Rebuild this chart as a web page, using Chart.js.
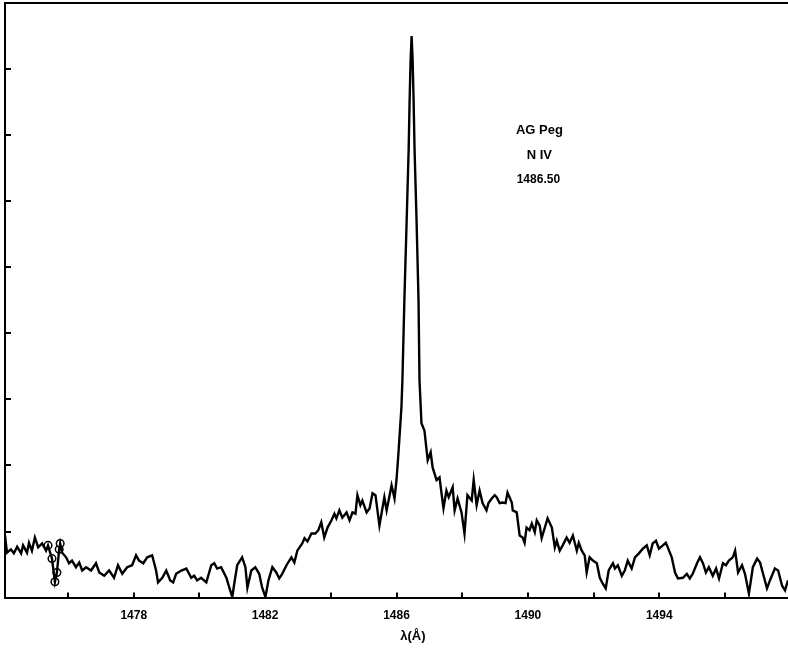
<!DOCTYPE html>
<html>
<head>
<meta charset="utf-8">
<title>AG Peg N IV 1486.50</title>
<script src="https://cdn.jsdelivr.net/npm/chart.js@4.4.1/dist/chart.umd.min.js"></script>
<style>
  html, body { margin: 0; padding: 0; background: #fff; }
  #wrap { width: 788px; height: 652px; }
</style>
</head>
<body>
<div id="wrap"><canvas id="spec" width="788" height="652"></canvas></div>
<script>
// spectrum: wavelength (Angstrom) and relative flux
var wavelength = [
  1474.08, 1474.14, 1474.26, 1474.35, 1474.45, 1474.57, 1474.63, 1474.75, 1474.81, 1474.90,
  1474.99, 1475.09, 1475.21, 1475.33, 1475.39, 1475.51, 1475.60, 1475.66, 1475.73, 1475.76,
  1475.82, 1475.94, 1476.03, 1476.12, 1476.24, 1476.34, 1476.43, 1476.55, 1476.70, 1476.85,
  1476.95, 1477.10, 1477.25, 1477.40, 1477.52, 1477.65, 1477.80, 1477.95, 1478.07, 1478.16,
  1478.29, 1478.41, 1478.56, 1478.68, 1478.74, 1478.87, 1478.99, 1479.11, 1479.20, 1479.29,
  1479.45, 1479.60, 1479.75, 1479.84, 1479.93, 1480.05, 1480.21, 1480.36, 1480.45, 1480.54,
  1480.66, 1480.82, 1480.91, 1481.00, 1481.06, 1481.15, 1481.30, 1481.40, 1481.46, 1481.58,
  1481.70, 1481.82, 1481.91, 1482.01, 1482.10, 1482.22, 1482.34, 1482.43, 1482.52, 1482.65,
  1482.80, 1482.89, 1482.98, 1483.13, 1483.20, 1483.29, 1483.41, 1483.53, 1483.62, 1483.71,
  1483.80, 1483.90, 1484.02, 1484.11, 1484.17, 1484.26, 1484.35, 1484.48, 1484.57, 1484.66,
  1484.75, 1484.81, 1484.90, 1484.96, 1485.09, 1485.18, 1485.27, 1485.36, 1485.48, 1485.63,
  1485.70, 1485.85, 1485.94, 1486.00, 1486.06, 1486.15, 1486.18, 1486.24, 1486.31, 1486.37,
  1486.40, 1486.43, 1486.46, 1486.49, 1486.52, 1486.55, 1486.61, 1486.67, 1486.70, 1486.76,
  1486.85, 1486.95, 1487.04, 1487.10, 1487.22, 1487.31, 1487.37, 1487.43, 1487.52, 1487.59,
  1487.71, 1487.77, 1487.86, 1487.98, 1488.07, 1488.16, 1488.29, 1488.35, 1488.44, 1488.53,
  1488.62, 1488.74, 1488.80, 1488.90, 1488.99, 1489.05, 1489.14, 1489.23, 1489.32, 1489.38,
  1489.51, 1489.54, 1489.66, 1489.75, 1489.84, 1489.90, 1489.96, 1490.05, 1490.12, 1490.21,
  1490.27, 1490.36, 1490.42, 1490.51, 1490.60, 1490.73, 1490.82, 1490.88, 1490.97, 1491.06,
  1491.18, 1491.27, 1491.37, 1491.49, 1491.55, 1491.64, 1491.73, 1491.79, 1491.88, 1491.98,
  1492.10, 1492.19, 1492.28, 1492.37, 1492.46, 1492.59, 1492.65, 1492.74, 1492.86, 1492.95,
  1493.04, 1493.16, 1493.26, 1493.38, 1493.50, 1493.62, 1493.71, 1493.80, 1493.90, 1493.99,
  1494.11, 1494.20, 1494.26, 1494.38, 1494.48, 1494.57, 1494.72, 1494.84, 1494.93, 1495.02,
  1495.15, 1495.24, 1495.33, 1495.42, 1495.51, 1495.63, 1495.73, 1495.82, 1495.94, 1496.03,
  1496.12, 1496.24, 1496.31, 1496.40, 1496.52, 1496.61, 1496.73, 1496.85, 1496.98, 1497.07,
  1497.16, 1497.28, 1497.37, 1497.52, 1497.62, 1497.74, 1497.83, 1497.92
];
var flux = [
  0.94, 0.68, 0.73, 0.67, 0.77, 0.67, 0.79, 0.68, 0.83, 0.71,
  0.91, 0.76, 0.82, 0.71, 0.79, 0.59, 0.24, 0.38, 0.73, 0.82,
  0.68, 0.61, 0.52, 0.56, 0.46, 0.53, 0.41, 0.46, 0.41, 0.52,
  0.38, 0.33, 0.41, 0.30, 0.49, 0.36, 0.46, 0.49, 0.64, 0.56,
  0.52, 0.61, 0.64, 0.41, 0.23, 0.30, 0.41, 0.26, 0.23, 0.36,
  0.41, 0.44, 0.30, 0.33, 0.26, 0.30, 0.23, 0.49, 0.52, 0.44,
  0.46, 0.30, 0.15, 0.01, 0.21, 0.49, 0.61, 0.46, 0.15, 0.41,
  0.46, 0.36, 0.15, 0.01, 0.26, 0.46, 0.38, 0.29, 0.36, 0.49,
  0.61, 0.53, 0.71, 0.82, 0.90, 0.85, 0.97, 0.97, 1.02, 1.14,
  0.91, 1.06, 1.17, 1.27, 1.20, 1.32, 1.21, 1.29, 1.17, 1.29,
  1.27, 1.55, 1.40, 1.47, 1.29, 1.35, 1.58, 1.55, 1.09, 1.52,
  1.32, 1.70, 1.50, 1.78, 2.19, 2.88, 3.29, 4.51, 5.72, 6.78,
  7.54, 8.15, 8.50, 8.15, 7.54, 6.78, 5.72, 4.51, 3.29, 2.64,
  2.53, 2.08, 2.20, 1.97, 1.78, 1.82, 1.58, 1.35, 1.62, 1.52,
  1.67, 1.32, 1.50, 1.29, 0.97, 1.55, 1.47, 1.78, 1.40, 1.62,
  1.43, 1.32, 1.43, 1.50, 1.55, 1.52, 1.43, 1.44, 1.43, 1.59,
  1.44, 1.32, 1.29, 0.94, 0.91, 0.83, 1.06, 1.02, 1.12, 0.99,
  1.17, 1.09, 0.90, 1.05, 1.20, 1.06, 0.76, 0.86, 0.71, 0.79,
  0.91, 0.83, 0.94, 0.71, 0.83, 0.71, 0.64, 0.38, 0.61, 0.56,
  0.52, 0.30, 0.21, 0.14, 0.41, 0.52, 0.44, 0.49, 0.33, 0.41,
  0.56, 0.44, 0.61, 0.67, 0.74, 0.79, 0.64, 0.82, 0.86, 0.74,
  0.79, 0.83, 0.76, 0.61, 0.38, 0.29, 0.30, 0.36, 0.29, 0.36,
  0.52, 0.61, 0.52, 0.38, 0.46, 0.33, 0.44, 0.29, 0.52, 0.49,
  0.56, 0.61, 0.71, 0.38, 0.49, 0.36, 0.06, 0.46, 0.59, 0.53,
  0.36, 0.14, 0.26, 0.44, 0.41, 0.18, 0.11, 0.26
];
// points marked with open circles
var flaggedWave = [1475.39, 1475.51, 1475.60, 1475.66, 1475.73, 1475.76];
var flaggedFlux = [0.79, 0.59, 0.24, 0.38, 0.73, 0.82];

var xTicks = [1476, 1478, 1480, 1482, 1484, 1486, 1488, 1490, 1492, 1494, 1496];
var xLabels = [1478, 1482, 1486, 1490, 1494];
var yTicks = [1, 2, 3, 4, 5, 6, 7, 8];
var noteLines = ['AG Peg', 'N IV', '1486.50'];

function toPoints(xs, ys) {
  var pts = [];
  for (var i = 0; i < xs.length; i++) {
    pts.push({ x: xs[i], y: ys[i] });
  }
  return pts;
}

// inward tick marks, top frame line, annotation and axis title
var frame = {
  id: 'frame',
  afterDraw: function (chart) {
    var ctx = chart.ctx;
    var a = chart.chartArea;
    var xs = chart.scales.x;
    var ys = chart.scales.y;
    ctx.save();
    ctx.strokeStyle = '#000';
    ctx.lineWidth = 2;
    ctx.beginPath();
    ctx.moveTo(a.left, a.top);
    ctx.lineTo(a.right, a.top);
    xTicks.forEach(function (v) {
      var px = Math.round(xs.getPixelForValue(v));
      ctx.moveTo(px, a.bottom);
      ctx.lineTo(px, a.bottom - 5);
    });
    yTicks.forEach(function (v) {
      var py = Math.round(ys.getPixelForValue(v));
      ctx.moveTo(a.left, py);
      ctx.lineTo(a.left + 6, py);
    });
    ctx.stroke();

    ctx.fillStyle = '#000';
    ctx.textAlign = 'center';
    ctx.textBaseline = 'middle';
    var nx = xs.getPixelForValue(1490.35);
    ctx.font = 'bold 13px "Liberation Sans", Arial, sans-serif';
    ctx.fillText(noteLines[0], nx, ys.getPixelForValue(7.07));
    ctx.fillText(noteLines[1], nx, ys.getPixelForValue(6.69));
    ctx.font = 'bold 12px "Liberation Sans", Arial, sans-serif';
    ctx.fillText(noteLines[2], nx - 1, ys.getPixelForValue(6.33));

    ctx.font = 'bold 13px "Liberation Sans", Arial, sans-serif';
    ctx.fillText('λ(Å)', xs.getPixelForValue(1486.5), a.bottom + 39);
    ctx.restore();
  }
};

new Chart(document.getElementById('spec'), {
  type: 'line',
  data: {
    datasets: [
      {
        label: 'N IV',
        data: toPoints(wavelength, flux),
        borderColor: '#000',
        borderWidth: 2.4,
        pointRadius: 0,
        tension: 0,
        fill: false
      },
      {
        label: 'flagged',
        data: toPoints(flaggedWave, flaggedFlux),
        showLine: false,
        pointRadius: 3.8,
        pointBackgroundColor: '#fff',
        pointBorderColor: '#000',
        pointBorderWidth: 1.5
      }
    ]
  },
  options: {
    responsive: false,
    animation: false,
    devicePixelRatio: 1,
    layout: { autoPadding: false, padding: { left: 5, top: 3, right: 0, bottom: 18 } },
    plugins: {
      legend: { display: false },
      tooltip: { enabled: false }
    },
    scales: {
      x: {
        type: 'linear',
        min: 1474.08,
        max: 1497.92,
        afterBuildTicks: function (scale) {
          scale.ticks = xTicks.map(function (v) { return { value: v }; });
        },
        afterFit: function (scale) {
          scale.paddingLeft = 0;
          scale.paddingRight = 0;
        },
        grid: { display: false, drawTicks: false },
        border: { display: true, color: '#000', width: 2 },
        ticks: {
          autoSkip: false,
          maxRotation: 0,
          padding: 11,
          color: '#000',
          font: { family: '"Liberation Sans", Arial, sans-serif', weight: 'bold', size: 12 },
          callback: function (v) {
            return xLabels.indexOf(v) >= 0 ? String(v) : '';
          }
        }
      },
      y: {
        min: 0,
        max: 9,
        grid: { display: false, drawTicks: false },
        border: { display: true, color: '#000', width: 2 },
        ticks: { display: false },
        afterFit: function (scale) { scale.width = 0; }
      }
    }
  },
  plugins: [frame]
});
</script>
</body>
</html>
